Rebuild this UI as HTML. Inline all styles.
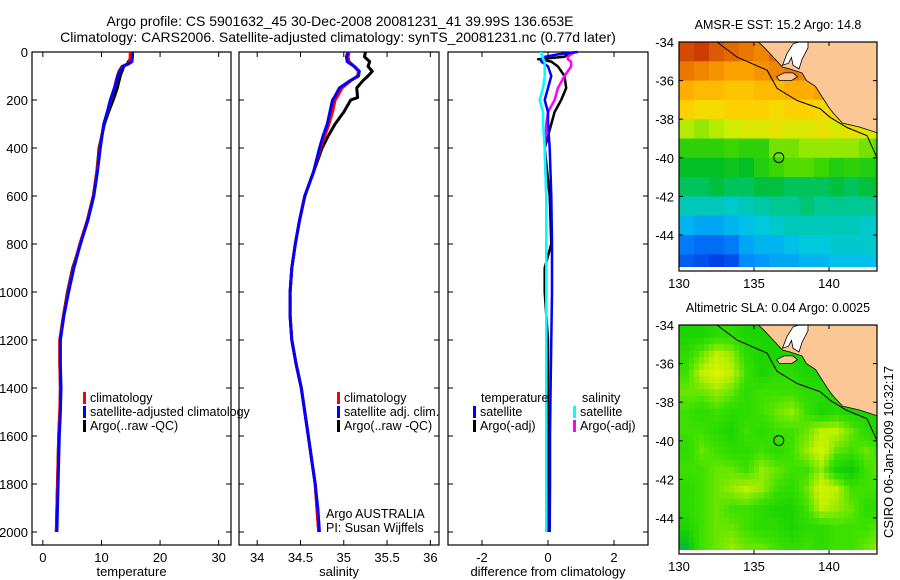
<!DOCTYPE html>
<html><head><meta charset="utf-8"><style>
body{margin:0;background:#fff}
svg{display:block;font-family:"Liberation Sans",sans-serif}
</style></head><body>
<svg id="fig" width="900" height="580" viewBox="0 0 900 580">
<g id="titles" font-size="14">
<text x="340" y="26" text-anchor="middle">Argo profile: CS 5901632_45 30-Dec-2008 20081231_41 39.99S 136.653E</text>
<text x="338" y="42" text-anchor="middle">Climatology: CARS2006. Satellite-adjusted climatology: synTS_20081231.nc (0.77d later)</text>
</g>
<text x="893" y="452" font-size="13" text-anchor="middle" transform="rotate(-90 893 452)">CSIRO 06-Jan-2009 10:32:17</text>
</svg>
<script>
// ---- profile data ----
const depthT = [0,20,40,50,60,80,100,150,200,250,300,400,500,600,700,800,900,1000,1100,1200,1300,1400,1500,1600,1700,1800,1900,2000];
const tempClim = [14.9,14.9,14.8,14.5,13.5,13.0,12.7,12.2,11.6,11.0,10.4,9.7,9.2,8.6,7.6,6.3,5.2,4.3,3.5,2.9,2.9,3.0,2.9,2.7,2.6,2.5,2.4,2.3];
const tempSat  = [15.3,15.3,15.2,14.6,13.6,13.1,12.8,12.2,11.5,11.0,10.4,9.8,9.3,8.7,7.7,6.4,5.3,4.4,3.6,3.0,3.0,3.1,3.0,2.8,2.7,2.6,2.5,2.4];
const tempArgo = [15.2,15.2,14.6,14.4,13.8,13.5,13.2,12.7,12.0,11.2,10.5,9.6,9.2,8.6,7.6,6.4,5.1,4.2,3.5,2.9,2.9,3.0,2.9,2.7,2.6,2.5,2.4,2.3];
const depthS = [0,20,40,60,80,100,120,150,190,200,250,300,350,400,500,600,700,800,900,1000,1100,1200,1300,1400,1500,1600,1700,1800,1900,2000];
const salClim = [35.06,35.05,35.06,35.12,35.17,35.16,35.08,34.98,34.92,34.9,34.87,34.83,34.78,34.73,34.65,34.55,34.49,34.44,34.40,34.38,34.38,34.40,34.45,34.51,34.55,34.59,34.63,34.67,34.69,34.71];
const salSat  = [35.05,35.03,35.04,35.12,35.18,35.17,35.07,34.95,34.89,34.87,34.84,34.81,34.76,34.72,34.65,34.55,34.49,34.44,34.40,34.38,34.38,34.40,34.45,34.51,34.55,34.59,34.63,34.67,34.70,34.72];
const salArgo = [35.25,35.24,35.30,35.28,35.33,35.28,35.22,35.15,35.16,35.08,35.0,34.9,34.82,34.75,34.65,34.55,34.49,34.44,34.40,34.38,34.38,34.40,34.45,34.51,34.55,34.59,34.63,34.67,34.69,34.71];
const depthD = [0,10,20,30,40,60,100,150,200,250,300,400,600,800,900,1000,1200,1400,1600,1800,2000];
const dTempSat  = [0.9,0.3,-0.1,-0.2,-0.2,0.0,0.1,0.0,-0.1,0.0,0.0,0.05,0.1,0.12,0.12,0.12,0.1,0.08,0.06,0.06,0.05];
const dTempArgo = [0.6,0.6,0.5,-0.3,0.1,0.3,0.5,0.55,0.4,0.2,0.1,-0.1,0.05,0.1,-0.1,-0.1,0.0,0.0,0.0,0.0,0.0];
const dSalSat   = [-0.2,-0.2,-0.15,-0.15,-0.1,-0.1,-0.1,-0.15,-0.25,-0.15,-0.15,-0.1,-0.05,-0.05,-0.05,-0.05,-0.05,-0.05,-0.05,-0.05,-0.05];
const dSalArgo  = [0.8,0.7,0.6,0.6,0.7,0.7,0.5,0.3,0.2,0.0,-0.05,-0.1,-0.05,-0.05,-0.05,-0.05,-0.05,-0.05,-0.05,-0.05,-0.05];
const depthTicks = [0,200,400,600,800,1000,1200,1400,1600,1800,2000];
const tempTicks = [0,10,20,30];
const salTicks = ["34","34.5","35","35.5","36"];
const diffTicks = [-2,0,2];
// ---- map data (rows -34..-46 by 1deg, cols 130..143 by 1deg) ----
const sstGrid = [
[16.6,16.7,16.5,16.4,16.3,16.2,16.4,16.5,16.6,16.6,16.6,16.5,16.4,16.3],
[16.3,16.2,16.1,16.0,16.0,16.1,16.2,16.3,16.2,16.1,16.0,16.0,16.0,16.0],
[15.9,15.8,15.8,15.7,15.7,15.8,15.8,15.9,15.9,16.0,15.9,15.9,15.9,15.9],
[15.6,15.5,15.5,15.6,15.6,15.6,15.5,15.6,15.6,15.5,15.6,15.6,15.5,15.6],
[15.1,15.0,15.1,15.2,15.3,15.3,15.4,15.3,15.3,15.4,15.3,15.4,15.3,15.2],
[14.6,14.6,14.6,14.7,14.6,14.6,14.9,14.9,15.0,15.0,15.0,15.0,14.9,14.8],
[14.2,14.2,14.2,14.3,14.2,14.5,14.7,14.8,14.8,14.7,14.5,14.6,14.5,14.4],
[14.0,14.0,14.1,14.0,14.0,14.1,14.1,14.0,14.0,14.0,14.1,14.0,14.1,14.2],
[13.6,13.6,13.6,13.5,13.6,13.7,13.8,13.8,13.9,13.8,13.8,13.8,13.8,13.8],
[13.2,13.1,13.1,13.2,13.3,13.4,13.5,13.6,13.6,13.6,13.6,13.6,13.5,13.5],
[12.8,12.7,12.7,12.8,13.1,13.2,13.2,13.3,13.4,13.4,13.5,13.5,13.5,13.5],
[12.6,12.5,12.4,12.5,12.9,13.0,13.1,13.1,13.2,13.2,13.3,13.3,13.3,13.3]];
const slaGrid = [
[0.3,0.3,0.4,0.4,0.3,0.3,0.3,0.3,0.3,0.3,0.3,0.3,0.3,0.3],
[0.4,0.6,0.8,0.7,0.4,0.3,0.3,0.3,0.3,0.3,0.3,0.3,0.3,0.3],
[0.5,0.8,0.95,0.8,0.5,0.3,0.4,0.4,0.3,0.3,0.3,0.3,0.3,0.3],
[0.6,0.6,0.7,0.6,0.4,0.5,0.5,0.5,0.4,0.4,0.3,0.3,0.3,0.3],
[0.5,0.4,0.5,0.4,0.4,0.5,0.6,0.7,0.5,0.3,0.4,0.3,0.3,0.3],
[0.5,0.5,0.4,0.3,0.5,0.4,0.5,0.5,0.6,0.8,0.8,0.6,0.4,0.3],
[0.4,0.6,0.5,0.4,0.4,0.5,0.4,0.5,0.7,0.9,0.6,0.5,0.6,0.5],
[0.5,0.5,0.6,0.6,0.5,0.7,0.6,0.5,0.5,0.7,0.3,0.2,0.5,0.6],
[0.4,0.5,0.6,0.7,0.8,0.7,0.5,0.4,0.6,0.9,0.8,0.5,0.5,0.5],
[0.4,0.5,0.6,0.5,0.5,0.4,0.3,0.3,0.5,0.8,0.7,0.6,0.4,0.4],
[0.3,0.5,0.6,0.6,0.5,0.4,0.4,0.3,0.4,0.4,0.5,0.5,0.5,0.6],
[0.1,0.5,0.6,0.7,0.6,0.6,0.5,0.4,0.5,0.4,0.5,0.5,0.6,0.7]];
const latTicks = [-34,-36,-38,-40,-42,-44];
const lonTicks = [130,135,140];
const argoLon = 136.653, argoLat = -39.99;

const NS='http://www.w3.org/2000/svg';
const svg=document.getElementById('fig');
function mk(tag,attrs,parent){const e=document.createElementNS(NS,tag);for(const k in attrs)e.setAttribute(k,attrs[k]);(parent||svg).appendChild(e);return e;}
function txt(x,y,s,anchor,parent,size){const t=mk('text',{x:x,y:y,'font-size':size||13,'text-anchor':anchor||'start'},parent);t.textContent=s;return t;}

const Y0=52, Ypx=0.24, Ybot=545;
const yD=d=>Y0+d*Ypx;

function panel(name,x0,x1,xmin,xmax,xt,xlabels,xlabel,showY){
  const g=mk('g',{});
  
  
  const sx=v=>x0+(v-xmin)/(xmax-xmin)*(x1-x0);
  const box=mk('rect',{x:x0,y:Y0,width:x1-x0,height:Ybot-Y0,fill:'none',stroke:'#000','stroke-width':1.2},g);
  
  
  xt.forEach((v,i)=>{
    const x=sx(+v);
    mk('line',{x1:x,x2:x,y1:Y0,y2:Y0+5,stroke:'#000'},g);
    mk('line',{x1:x,x2:x,y1:Ybot,y2:Ybot-5,stroke:'#000'},g);
    const t=txt(x,Ybot+17,xlabels[i],'middle',g);
    
    
  });
  const xl=txt((x0+x1)/2,Ybot+31,xlabel,'middle',g);
  
  
  depthTicks.forEach(d=>{
    const y=yD(d);
    mk('line',{x1:x0,x2:x0+5,y1:y,y2:y,stroke:'#000'},g);
    mk('line',{x1:x1,x2:x1-5,y1:y,y2:y,stroke:'#000'},g);
    if(showY){const t=txt(x0-4,y+5,String(d),'end',g);
      
      }
  });
  return {g,sx};
}
function line(p,xs,ds,color,name,w){
  const pts=xs.map((v,i)=>p.sx(v).toFixed(1)+','+yD(ds[i]).toFixed(1)).join(' ');
  const l=mk('polyline',{points:pts,fill:'none',stroke:color,'stroke-width':w||3,'stroke-linejoin':'round'},p.g);
  
  
}
function legend(p,x,y,color,label,name){
  const b=mk('rect',{x:x,y:y-10,width:3,height:12,fill:color},p.g);
  
  
  const t=txt(x+7,y,label,'start',p.g,12.5);
  
  
}
const p1=panel('temperature',32,231,-1.85,32.1,tempTicks,tempTicks.map(String),'temperature',true);
line(p1,tempArgo,depthT,'#000','temperature-argo-line');
line(p1,tempClim,depthT,'#f00','temperature-climatology-line');
line(p1,tempSat,depthT,'#00f','temperature-satellite-line');
legend(p1,83,402,'#f00','climatology','legend-climatology');
legend(p1,83,416,'#00f','satellite-adjusted climatology','legend-satellite-adjusted');
legend(p1,83,430,'#000','Argo(..raw -QC)','legend-argo');
const p2=panel('salinity',239,439,33.79,36.1,salTicks,salTicks,'salinity',false);
line(p2,salArgo,depthS,'#000','salinity-argo-line');
line(p2,salClim,depthS,'#f00','salinity-climatology-line');
line(p2,salSat,depthS,'#00f','salinity-satellite-line');
legend(p2,337,402,'#f00','climatology','legend-sal-climatology');
legend(p2,337,416,'#00f','satellite adj. clim.','legend-sal-satellite');
legend(p2,337,430,'#000','Argo(..raw -QC)','legend-sal-argo');
const a1=txt(326,518,'Argo AUSTRALIA','start',p2.g,12.5);


const a2=txt(326,532,'PI: Susan Wijffels','start',p2.g,12.5);


const p3=panel('difference',448,648,-3.03,3.03,diffTicks,diffTicks.map(String),'difference from climatology',false);
line(p3,dTempArgo,depthD,'#000','diff-temperature-argo-line',2.5);
line(p3,dSalArgo,depthD,'#f0f','diff-salinity-argo-line',2.5);
line(p3,dTempSat,depthD,'#00f','diff-temperature-satellite-line',2.5);
line(p3,dSalSat,depthD,'#0ff','diff-salinity-satellite-line',2.5);
const lt=txt(481,402,'temperature','start',p3.g,12.5);


const ls=txt(582,402,'salinity','start',p3.g,12.5);


legend(p3,473,416,'#00f','satellite','legend-diff-temp-satellite');
legend(p3,473,430,'#000','Argo(-adj)','legend-diff-temp-argo');
legend(p3,573,416,'#0ff','satellite','legend-diff-sal-satellite');
legend(p3,573,430,'#f0f','Argo(-adj)','legend-diff-sal-argo');

// ---- maps ----
function lerpC(stops,t){t=Math.max(0,Math.min(1,t));for(let i=1;i<stops.length;i++){if(t<=stops[i][0]){const a=stops[i-1],b=stops[i],f=(t-a[0])/(b[0]-a[0]);const c=[0,1,2].map(k=>Math.round(a[1][k]+(b[1][k]-a[1][k])*f));return 'rgb('+c.join(',')+')';}}return 'rgb('+stops[stops.length-1][1].join(',')+')';}
const sstStops=[[0,[0,0,150]],[0.12,[0,60,230]],[0.22,[0,140,255]],[0.3,[0,200,230]],[0.38,[0,200,150]],[0.45,[0,190,40]],[0.55,[60,215,0]],[0.63,[200,240,0]],[0.7,[250,215,0]],[0.77,[255,170,0]],[0.85,[230,110,0]],[0.92,[200,50,0]],[1,[150,0,0]]];
const slaStops=[[0,[0,170,90]],[0.25,[20,210,0]],[0.5,[60,225,0]],[0.8,[190,240,0]],[1,[225,245,0]]];
function sample(grid,r,c){ // bilinear sampling at fractional grid index
  const R=grid.length-1,C=grid[0].length-1;
  r=Math.max(0,Math.min(R,r));c=Math.max(0,Math.min(C,c));
  const r0=Math.floor(r),c0=Math.floor(c),r1=Math.min(R,r0+1),c1=Math.min(C,c0+1),fr=r-r0,fc=c-c0;
  return grid[r0][c0]*(1-fr)*(1-fc)+grid[r0][c1]*(1-fr)*fc+grid[r1][c0]*fr*(1-fc)+grid[r1][c1]*fr*fc;
}
function map(name,top,grid,stops,vmin,vmax,title,sub){
  const x0=679,x1=877,lonMin=130,lonMax=143.2,yTop=top,pxLat=19.3,bottom=top+229;
  const g=mk('g',{});
  
  
  const sx=lon=>x0+(lon-lonMin)/(lonMax-lonMin)*(x1-x0);
  const sy=lat=>yTop+(-34-lat)*pxLat;
  const step=1/sub;
  for(let r=0;r<grid.length*sub;r++)for(let c=0;c<grid[0].length*sub;c++){
    const v=sub===1?grid[r][c]:sample(grid,r*step-0.5+step/2,c*step-0.5+step/2);
    const xa=sx(lonMin+c*step),xb=Math.min(x1,sx(lonMin+(c+1)*step)),ya=sy(-34-r*step),yb=Math.min(bottom-4,sy(-34-(r+1)*step));
    if(xb<=xa||yb<=ya)continue;
    const cell=mk('rect',{x:xa.toFixed(1),y:ya.toFixed(1),width:(xb-xa+0.5).toFixed(1),height:(yb-ya+0.5).toFixed(1),fill:lerpC(stops,(v-vmin)/(vmax-vmin))},g);
    
    
  }
  const P=a=>a.map(p=>sx(p[0]).toFixed(1)+','+sy(p[1]).toFixed(1)).join(' ');
  const land=mk('polygon',{fill:'#fbc895',stroke:'#000','stroke-width':0.8,points:P([[135.3,-34],[143.2,-34],[143.2,-38.7],[142,-38.4],[140.9,-38.2],[140.3,-37.7],[140,-37.4],[139.5,-36.8],[139.1,-36.3],[138.5,-36.0],[138.2,-35.6],[137.4,-35.4],[136.9,-35.3],[136.3,-34.8],[135.7,-34.3]])},g);
  
  
  const gulf=mk('polygon',{fill:'#fff',stroke:'#000','stroke-width':0.8,points:P([[136.9,-35.2],[137.2,-34.6],[137.6,-34.1],[138.0,-34.0],[138.6,-34.0],[138.6,-34.3],[138.2,-34.9],[138.0,-35.4],[137.6,-35.2],[137.5,-34.8],[137.3,-35.1]])},g);
  
  
  const isl=mk('polygon',{fill:'#fbc895',stroke:'#000','stroke-width':0.8,points:P([[136.5,-35.8],[137.0,-35.6],[137.6,-35.6],[137.9,-35.8],[137.5,-36.0],[136.7,-36.0]])},g);
  
  
  const shelf=mk('polyline',{fill:'none',stroke:'#000','stroke-width':1,points:P([[132.53,-34],[133.87,-34.78],[135.87,-35.46],[136.53,-36.4],[137.87,-37.03],[139.4,-37.45],[140.07,-37.9],[141.2,-38.43],[142.53,-38.85],[143.2,-39.99]])},g);
  
  
  const mk1=mk('circle',{cx:sx(argoLon),cy:sy(argoLat),r:5,fill:'none',stroke:'#000','stroke-width':1},g);
  
  
  mk('rect',{x:x0,y:bottom-4,width:x1-x0,height:4,fill:'#fff'},g);
  const box=mk('rect',{x:x0,y:yTop,width:x1-x0,height:bottom-yTop,fill:'none',stroke:'#000','stroke-width':1.2},g);
  
  
  latTicks.forEach(l=>{const y=sy(l);
    mk('line',{x1:x0,x2:x0+4,y1:y,y2:y,stroke:'#000'},g);mk('line',{x1:x1,x2:x1-4,y1:y,y2:y,stroke:'#000'},g);
    const t=txt(x0-5,y+5,String(l),'end',g);
    
    });
  lonTicks.forEach(l=>{const x=sx(l);
    mk('line',{x1:x,x2:x,y1:yTop,y2:yTop+4,stroke:'#000'},g);mk('line',{x1:x,x2:x,y1:bottom,y2:bottom-4,stroke:'#000'},g);
    const t=txt(x,bottom+17,String(l),'middle',g);
    
    });
  const tt=txt(778,yTop-13,title,'middle',g,12.5);
  
  
}
map('sst',42,sstGrid,sstStops,11.7,17.2,'AMSR-E SST: 15.2 Argo: 14.8',1);
map('sla',325,slaGrid,slaStops,0,1,'Altimetric SLA: 0.04 Argo: 0.0025',3);
</script>
</body></html>
